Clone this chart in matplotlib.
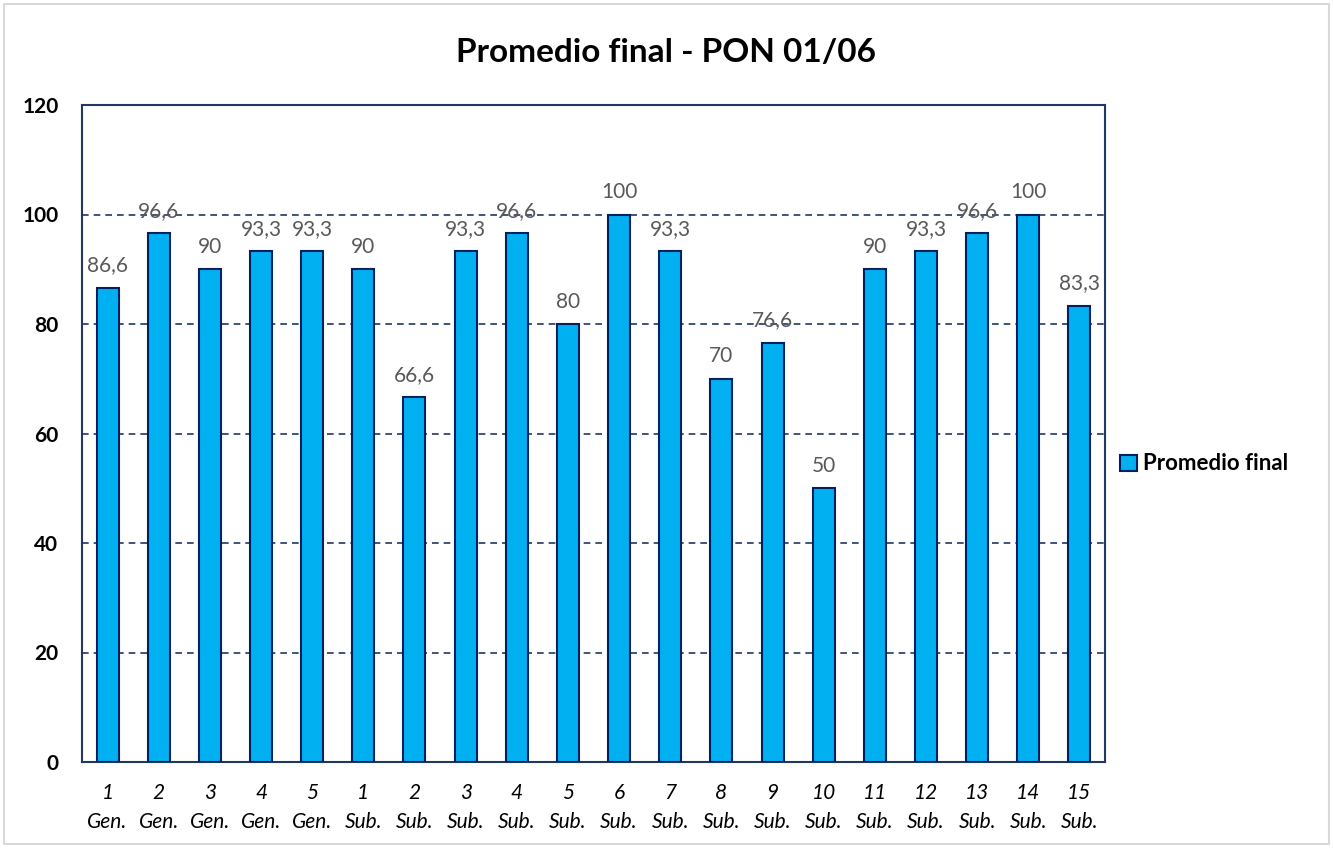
import matplotlib
matplotlib.use("Agg")
import matplotlib.pyplot as plt
import numpy as np

plt.rcParams['font.family'] = ['Lato', 'DejaVu Sans']

categories = ["1\nGen.", "2\nGen.", "3\nGen.", "4\nGen.", "5\nGen.",
              "1\nSub.", "2\nSub.", "3\nSub.", "4\nSub.", "5\nSub.",
              "6\nSub.", "7\nSub.", "8\nSub.", "9\nSub.", "10\nSub.",
              "11\nSub.", "12\nSub.", "13\nSub.", "14\nSub.", "15\nSub."]
values = [86.6, 96.6, 90, 93.3, 93.3, 90, 66.6, 93.3, 96.6, 80,
          100, 93.3, 70, 76.6, 50, 90, 93.3, 96.6, 100, 83.3]
yticks = [0, 20, 40, 60, 80, 100, 120]

navy = '#1F3864'
fig = plt.figure(figsize=(13.33, 8.48), dpi=100)
ax = fig.add_axes([82 / 1333, 1 - 762 / 848, (1105 - 82) / 1333, (762 - 105) / 848])

x = np.arange(len(categories))
bars = ax.bar(x, values, width=0.43, color='#00B0F0', edgecolor='#002060',
              linewidth=1.5, label='Promedio final', zorder=3)

for xi, v in zip(x, values):
    lbl = f"{v:g}".replace('.', ',')
    ax.annotate(lbl, (xi, v), xytext=(0, 9), textcoords='offset points',
                ha='center', va='bottom', fontsize=15, color='#595959', zorder=4)

ax.set_xlim(-0.5, len(categories) - 0.5)
ax.set_ylim(0, 120)
ax.set_yticks(yticks)
ax.set_yticklabels([str(t) for t in yticks], fontsize=15, fontweight='bold')
ax.set_xticks(x)
ax.set_xticklabels(categories, fontsize=15, style='italic', linespacing=1.55)
ax.tick_params(axis='both', length=0)
ax.tick_params(axis='x', pad=15)
ax.tick_params(axis='y', pad=17)

ax.yaxis.grid(True, linestyle=(0, (4, 3)), color=navy, linewidth=1.2, zorder=0)
for s in ax.spines.values():
    s.set_color(navy)
    s.set_linewidth(1.5)

fig.text(0.5, 1 - 53 / 848, 'Promedio final - PON 01/06',
         ha='center', va='center', fontsize=24, fontweight='bold')

leg = fig.legend(handles=[bars], loc='center left', bbox_to_anchor=(1100 / 1333, 1 - 464 / 848),
                 frameon=False, handlelength=0.75, handleheight=0.75,
                 handletextpad=0.3, prop={'weight': 'bold', 'size': 16})

border = plt.Rectangle((4 / 1333, 4 / 848), 1 - 8 / 1333, 1 - 8 / 848, transform=fig.transFigure,
                       fill=False, edgecolor='#D9D9D9', linewidth=1.5)
fig.patches.append(border)

fig.savefig('out.png', dpi=100)
